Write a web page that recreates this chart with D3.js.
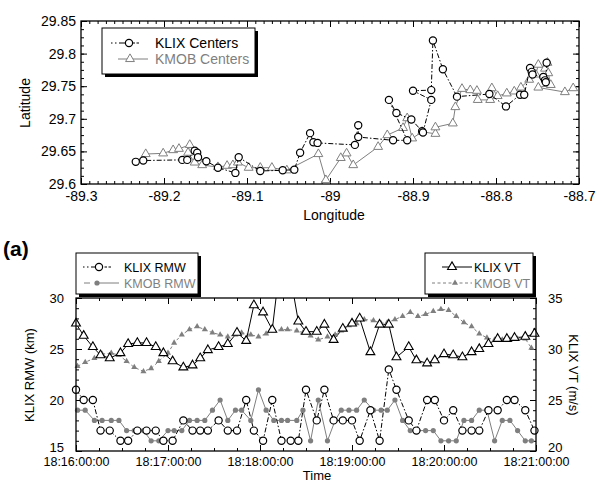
<!DOCTYPE html>
<html>
<head>
<meta charset="utf-8">
<script src="https://cdn.jsdelivr.net/npm/d3@7"></script>
<style>
	body { margin: 0; background: #fff; }
	svg { font-family: "Liberation Sans", Arial, sans-serif; }
</style>
</head>
<body>
<svg id="chart" width="602" height="483"></svg>
<script>
// --- top panel: storm centre tracks (lon / lat) ---
const klixLon = [-89.234, -89.225, -89.178, -89.172, -89.163, -89.160, -89.159, -89.149, -89.135, -89.114, -89.110, -89.084, -89.057, -89.043, -89.036, -89.024, -89.020, -89.015, -88.970, -88.966, -88.966, -88.924, -88.907, -88.929, -88.920, -88.902, -88.889, -88.888, -88.878, -88.900, -88.878, -88.876, -88.864, -88.847, -88.808, -88.788, -88.771, -88.766, -88.759, -88.757, -88.756, -88.743, -88.741, -88.740, -88.739];
const klixLat = [29.634, 29.636, 29.637, 29.637, 29.651, 29.648, 29.641, 29.635, 29.625, 29.617, 29.641, 29.620, 29.621, 29.622, 29.648, 29.678, 29.664, 29.663, 29.660, 29.690, 29.672, 29.667, 29.667, 29.729, 29.709, 29.699, 29.681, 29.679, 29.729, 29.743, 29.744, 29.820, 29.776, 29.734, 29.738, 29.719, 29.737, 29.737, 29.778, 29.772, 29.768, 29.764, 29.759, 29.756, 29.786];
const kmobLon = [-89.222, -89.201, -89.189, -89.182, -89.169, -89.171, -89.163, -89.154, -89.135, -89.124, -89.117, -89.111, -89.098, -89.084, -89.070, -89.052, -89.014, -89.005, -88.987, -88.980, -88.972, -88.942, -88.931, -88.912, -88.907, -88.901, -88.889, -88.873, -88.873, -88.852, -88.849, -88.841, -88.831, -88.823, -88.822, -88.807, -88.805, -88.798, -88.787, -88.778, -88.770, -88.760, -88.752, -88.749, -88.741, -88.738, -88.737, -88.734, -88.749, -88.717, -88.707];
const kmobLat = [29.646, 29.647, 29.652, 29.654, 29.660, 29.648, 29.633, 29.629, 29.626, 29.628, 29.629, 29.633, 29.625, 29.625, 29.625, 29.621, 29.646, 29.606, 29.640, 29.647, 29.629, 29.657, 29.675, 29.686, 29.701, 29.670, 29.680, 29.677, 29.687, 29.693, 29.718, 29.746, 29.744, 29.743, 29.729, 29.729, 29.747, 29.735, 29.739, 29.742, 29.748, 29.760, 29.768, 29.783, 29.777, 29.786, 29.770, 29.752, 29.748, 29.741, 29.747];
const lonTicks = [-89.3, -89.2, -89.1, -89.0, -88.9, -88.8, -88.7];
const lonLabels = ['-89.3', '-89.2', '-89.1', '-89', '-88.9', '-88.8', '-88.7'];
const latTicks = [29.6, 29.65, 29.7, 29.75, 29.8, 29.85];
const latLabels = ['29.6', '29.65', '29.7', '29.75', '29.8', '29.85'];

// --- bottom panel: seconds after 18:16:00 ---
const klixSec = [0, 5, 11, 16, 22, 29, 34, 40, 46, 52, 57, 63, 70, 76, 81, 86, 93, 99, 105, 111, 116, 122, 128, 134, 140, 145, 150, 157, 162, 168, 174, 180, 185, 192, 198, 204, 209, 217, 222, 229, 234, 240, 246, 252, 258, 263, 269, 275, 281, 286, 293, 299];
const klixRmw = [21, 20, 20, 17, 17, 16, 16, 17, 17, 17, 16, 16, 18, 17, 17, 17, 18, 17, 17, 20, 17, 16, 20, 16, 16, 16, 21, 18, 21, 18, 18, 18, 16, 19, 16, 23, 21, 18, 17, 20, 20, 18, 19, 17, 17, 17, 19, 19, 20, 20, 19, 17];
const klixVt = [32.5, 31.3, 30.2, 29.4, 29.1, 29.6, 30.5, 30.6, 30.6, 30.2, 29.6, 28.8, 28.2, 28.4, 29.1, 29.9, 30.2, 30.5, 31.6, 30.8, 34.3, 33.6, 31.9, 39.5, 37.0, 32.7, 31.7, 31.7, 32.4, 30.9, 32.0, 32.5, 33.0, 29.7, 32.4, 32.4, 29.2, 30.2, 28.9, 28.6, 28.9, 29.5, 29.4, 29.2, 29.7, 30.0, 30.5, 31.0, 31.0, 31.1, 31.2, 31.5];
const kmobSec = [1, 6, 12, 17, 23, 28, 33, 38, 44, 49, 54, 60, 64, 69, 74, 79, 84, 89, 94, 99, 104, 108, 114, 119, 124, 129, 134, 138, 144, 148, 153, 158, 164, 169, 173, 178, 183, 188, 194, 199, 203, 208, 213, 218, 223, 228, 233, 238, 243, 248, 253, 258, 263, 268, 273, 278, 283, 288, 293, 297];
const kmobRmw = [19, 19, 18, 18, 18, 18, 17, 17, 17, 16, 16, 17, 17, 17, 18, 18, 18, 19, 20, 18, 19, 19, 18, 21, 19, 18, 18, 18, 18, 19, 16, 20, 16, 18, 19, 19, 19, 20, 19, 19, 19, 20, 18, 17, 17, 17, 17, 16, 16, 16, 18, 18, 19, 19, 16, 18, 18, 17, 16, 16];
const kmobVt = [28.3, 28.7, 29.1, 29.5, 29.6, 29.4, 28.8, 28.2, 27.8, 28.1, 28.8, 29.6, 30.6, 31.4, 31.9, 32.2, 31.9, 31.6, 31.4, 31.2, 31.4, 31.6, 31.4, 31.2, 31.5, 31.8, 31.9, 31.9, 31.8, 31.6, 31.3, 30.9, 31.2, 31.4, 31.8, 32.3, 32.5, 32.9, 32.8, 32.5, 32.6, 32.9, 33.2, 33.6, 33.2, 33.4, 33.7, 33.9, 33.8, 33.2, 32.6, 32.2, 31.5, 31.1, 30.9, 30.9, 30.9, 31.0, 31.0, 30.1];
const timeTicks = [0, 60, 120, 180, 240, 300];
const timeLabels = ['18:16:00:00', '18:17:00:00', '18:18:00:00', '18:19:00:00', '18:20:00:00', '18:21:00:00'];
const rmwTicks = [15, 20, 25, 30];
const vtTicks = [20, 25, 30, 35];

const svg = d3.select('#chart');
const gray = '#7f7f7f';
const dashDot = '5,2,1.5,2';

// inward ticks on every side, major + minor
const drawAxis = (axisFn, scale, translate, major, labels, minor, pad, fontSize) => {
	const gMinor = svg.append('g').attr('transform', translate);
	gMinor.call(axisFn(scale).tickValues(minor).tickSizeInner(-3).tickSizeOuter(0).tickFormat(''));
	const g = svg.append('g').attr('transform', translate);
	g.call(axisFn(scale).tickValues(major).tickSizeInner(-6).tickSizeOuter(0).tickPadding(pad)
		.tickFormat((d, i) => labels ? labels[i] : ''));
	[g, gMinor].forEach((s) => {
		s.select('.domain').remove();
		s.selectAll('line').attr('stroke', '#000');
	});
	g.selectAll('text').attr('fill', '#000').style('font-size', fontSize + 'px').style('font-family', '"Liberation Sans", Arial, sans-serif');
	return g;
};

const openTriangle = d3.symbol().type(d3.symbolTriangle).size(34);
const smallTriangle = d3.symbol().type(d3.symbolTriangle).size(16);

const legendBox = (x, y, w, h) => {
	svg.append('rect').attr('x', x + 3).attr('y', y + 3).attr('width', w).attr('height', h).attr('fill', '#000');
	svg.append('rect').attr('x', x).attr('y', y).attr('width', w).attr('height', h).attr('fill', '#fff').attr('stroke', '#000').attr('stroke-width', 1);
};

// ================= top panel =================
const xLon = d3.scaleLinear().domain([-89.3, -88.7]).range([81, 579]);
const yLat = d3.scaleLinear().domain([29.6, 29.85]).range([184, 21]);

const lonMinor = d3.range(-89.3, -88.7 + 1e-6, 0.01);
const latMinor = d3.range(29.6, 29.85 + 1e-6, 0.0125);
drawAxis(d3.axisBottom, xLon, 'translate(0,184)', lonTicks, lonLabels, lonMinor, 7, 14);
drawAxis(d3.axisTop, xLon, 'translate(0,21)', lonTicks, null, lonMinor, 3, 14);
drawAxis(d3.axisLeft, yLat, 'translate(81,0)', latTicks, latLabels, latMinor, 5, 14);
drawAxis(d3.axisRight, yLat, 'translate(579,0)', latTicks, null, latMinor, 3, 14);
svg.append('rect').attr('x', 81).attr('y', 21).attr('width', 498).attr('height', 163)
	.attr('fill', 'none').attr('stroke', '#000').attr('stroke-width', 1.3);

const kmobTrack = kmobLon.map((d, i) => [d, kmobLat[i]]);
const klixTrack = klixLon.map((d, i) => [d, klixLat[i]]);
const trackLine = d3.line().x((d) => xLon(d[0])).y((d) => yLat(d[1]));

svg.append('path').attr('d', trackLine(kmobTrack)).attr('fill', 'none').attr('stroke', gray).attr('stroke-width', 1);
svg.append('g').selectAll('path').data(kmobTrack).enter().append('path')
	.attr('d', openTriangle)
	.attr('transform', (d) => `translate(${xLon(d[0])},${yLat(d[1])})`)
	.attr('fill', '#fff').attr('stroke', gray).attr('stroke-width', 1);

svg.append('path').attr('d', trackLine(klixTrack)).attr('fill', 'none').attr('stroke', '#000')
	.attr('stroke-width', 1).attr('stroke-dasharray', dashDot);
svg.append('g').selectAll('circle').data(klixTrack).enter().append('circle')
	.attr('cx', (d) => xLon(d[0])).attr('cy', (d) => yLat(d[1])).attr('r', 3.6)
	.attr('fill', '#fff').attr('stroke', '#000').attr('stroke-width', 1.2);

svg.append('text').attr('x', 334).attr('y', 220).attr('text-anchor', 'middle').style('font-size', '14px').text('Longitude');
svg.append('text').attr('transform', 'translate(30,103) rotate(-90)').attr('text-anchor', 'middle').style('font-size', '14px').text('Latitude');

// top legend
legendBox(102, 28, 153, 46);
svg.append('line').attr('x1', 111).attr('x2', 147).attr('y1', 43).attr('y2', 43).attr('stroke', '#000').attr('stroke-dasharray', '1.5,2.5,1.5,2.5,12');
svg.append('circle').attr('cx', 129).attr('cy', 43).attr('r', 3.6).attr('fill', '#fff').attr('stroke', '#000').attr('stroke-width', 1.2);
svg.append('text').attr('x', 155).attr('y', 48).style('font-size', '14px').text('KLIX Centers');
svg.append('line').attr('x1', 118).attr('x2', 148).attr('y1', 59).attr('y2', 59).attr('stroke', gray);
svg.append('path').attr('d', openTriangle).attr('transform', 'translate(130,59)').attr('fill', '#fff').attr('stroke', gray);
svg.append('text').attr('x', 155).attr('y', 64).style('font-size', '14px').attr('fill', gray).text('KMOB Centers');

// ================= bottom panel =================
svg.append('text').attr('x', 3).attr('y', 256).style('font-size', '21px').style('font-weight', 'bold').text('(a)');

const xT = d3.scaleLinear().domain([0, 300]).range([76, 536]);
const yR = d3.scaleLinear().domain([15, 30]).range([451, 298]);
const yV = d3.scaleLinear().domain([20, 35]).range([451, 298]);

const timeMinor = d3.range(0, 301, 15);
drawAxis(d3.axisBottom, xT, 'translate(0,451)', timeTicks, timeLabels, timeMinor, 6, 12.5);
drawAxis(d3.axisTop, xT, 'translate(0,298)', timeTicks, null, timeMinor, 3, 13);
const gLeft = drawAxis(d3.axisLeft, yR, 'translate(76,0)', rmwTicks, rmwTicks.map(String), d3.range(15, 31, 1), 12, 13);
const gRight = drawAxis(d3.axisRight, yV, 'translate(536,0)', vtTicks, vtTicks.map(String), d3.range(20, 36, 1), 12, 13);
// lowest labels sit just above the time labels, as in the original
gLeft.selectAll('text').filter((d) => d === 15).attr('dy', '0');
gRight.selectAll('text').filter((d) => d === 20).attr('dy', '0');

svg.append('clipPath').attr('id', 'plot-clip').append('rect').attr('x', 76).attr('y', 298).attr('width', 460).attr('height', 153);
svg.append('clipPath').attr('id', 'mark-clip').append('rect').attr('x', 68).attr('y', 293).attr('width', 476).attr('height', 166);
const plot = svg.append('g').attr('clip-path', 'url(#plot-clip)');
const marks = svg.append('g').attr('clip-path', 'url(#mark-clip)');

const kmobVtPts = kmobSec.map((t, i) => [t, kmobVt[i]]);
const kmobRmwPts = kmobSec.map((t, i) => [t, kmobRmw[i]]);
const klixVtPts = klixSec.map((t, i) => [t, klixVt[i]]);
const klixRmwPts = klixSec.map((t, i) => [t, klixRmw[i]]);
const vtLine = d3.line().x((d) => xT(d[0])).y((d) => yV(d[1]));
const rmwLine = d3.line().x((d) => xT(d[0])).y((d) => yR(d[1]));

plot.append('path').attr('d', vtLine(kmobVtPts)).attr('fill', 'none').attr('stroke', gray).attr('stroke-dasharray', '3,2.5');
plot.append('path').attr('d', rmwLine(kmobRmwPts)).attr('fill', 'none').attr('stroke', gray);
plot.append('path').attr('d', vtLine(klixVtPts)).attr('fill', 'none').attr('stroke', '#000');
plot.append('path').attr('d', rmwLine(klixRmwPts)).attr('fill', 'none').attr('stroke', '#000').attr('stroke-dasharray', dashDot);

marks.append('g').selectAll('path').data(kmobVtPts).enter().append('path')
	.attr('d', smallTriangle).attr('transform', (d) => `translate(${xT(d[0])},${yV(d[1])})`).attr('fill', gray);
marks.append('g').selectAll('circle').data(kmobRmwPts).enter().append('circle')
	.attr('cx', (d) => xT(d[0])).attr('cy', (d) => yR(d[1])).attr('r', 2.6).attr('fill', gray);
marks.append('g').selectAll('path').data(klixVtPts).enter().append('path')
	.attr('d', openTriangle).attr('transform', (d) => `translate(${xT(d[0])},${yV(d[1])})`)
	.attr('fill', '#fff').attr('stroke', '#000').attr('stroke-width', 1.1);
marks.append('g').selectAll('circle').data(klixRmwPts).enter().append('circle')
	.attr('cx', (d) => xT(d[0])).attr('cy', (d) => yR(d[1])).attr('r', 3.6)
	.attr('fill', '#fff').attr('stroke', '#000').attr('stroke-width', 1.2);

svg.append('rect').attr('x', 76).attr('y', 298).attr('width', 460).attr('height', 153)
	.attr('fill', 'none').attr('stroke', '#000').attr('stroke-width', 1.3);

svg.append('text').attr('x', 317).attr('y', 480).attr('text-anchor', 'middle').style('font-size', '13px').text('Time');
svg.append('text').attr('transform', 'translate(34,375) rotate(-90)').attr('text-anchor', 'middle').style('font-size', '13px').text('KLIX RMW (km)');
svg.append('text').attr('transform', 'translate(569,375) rotate(90)').attr('text-anchor', 'middle').style('font-size', '13px').text('KLIX VT (m/s)');

// bottom legends
legendBox(76, 253, 122, 41);
svg.append('line').attr('x1', 83).attr('x2', 119).attr('y1', 267).attr('y2', 267).attr('stroke', '#000').attr('stroke-dasharray', '1.5,2.5,1.5,2.5,12');
svg.append('circle').attr('cx', 99).attr('cy', 267).attr('r', 3.6).attr('fill', '#fff').attr('stroke', '#000').attr('stroke-width', 1.2);
svg.append('text').attr('x', 124).attr('y', 272).style('font-size', '12.5px').text('KLIX RMW');
svg.append('line').attr('x1', 84).attr('x2', 119).attr('y1', 283).attr('y2', 283).attr('stroke', gray).attr('stroke-dasharray', '6,5,30');
svg.append('circle').attr('cx', 97).attr('cy', 283).attr('r', 2.6).attr('fill', gray);
svg.append('text').attr('x', 124).attr('y', 288).style('font-size', '12.5px').attr('fill', gray).text('KMOB RMW');

legendBox(425, 253, 108, 41);
svg.append('line').attr('x1', 442).attr('x2', 472).attr('y1', 267).attr('y2', 267).attr('stroke', '#000');
svg.append('path').attr('d', openTriangle).attr('transform', 'translate(452,267)').attr('fill', '#fff').attr('stroke', '#000').attr('stroke-width', 1.1);
svg.append('text').attr('x', 474).attr('y', 272).style('font-size', '12.5px').text('KLIX VT');
svg.append('line').attr('x1', 432).attr('x2', 472).attr('y1', 283).attr('y2', 283).attr('stroke', gray).attr('stroke-dasharray', '3,2.5');
svg.append('path').attr('d', smallTriangle).attr('transform', 'translate(455,283)').attr('fill', gray);
svg.append('text').attr('x', 474).attr('y', 288).style('font-size', '12.5px').attr('fill', gray).text('KMOB VT');
</script>
</body>
</html>
